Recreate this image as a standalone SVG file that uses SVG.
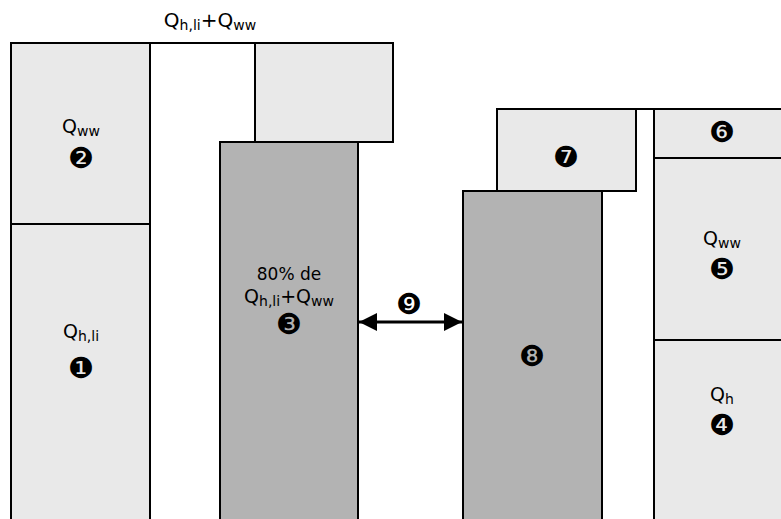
<svg xmlns="http://www.w3.org/2000/svg" width="781" height="519" viewBox="0 0 781 519">
<defs>
<style>
.lt{fill:#e9e9e9;stroke:#000;stroke-width:2}
.dk{fill:#b3b3b3;stroke:#000;stroke-width:2}
text{font-family:"DejaVu Sans","Liberation Sans",sans-serif;fill:#000;text-anchor:middle}
.lb{font-size:19px}
.sub{font-size:14px}
.num{font-size:29px}
</style>
<marker id="ah" viewBox="0 0 10 10" refX="10" refY="5" markerWidth="6" markerHeight="6" orient="auto-start-reverse" markerUnits="strokeWidth">
<path d="M0,0 L10,5 L0,10 z" fill="#000"/>
</marker>
</defs>
<rect width="781" height="519" fill="#fff"/>
<g id="header">
<text x="210" y="27" style="font-size:20px">Q<tspan style="font-size:14px" dy="3">h,li</tspan><tspan dy="-3">+Q</tspan><tspan style="font-size:14px" dy="3">ww</tspan></text>
<line x1="10" y1="43" x2="394" y2="43" stroke="#000" stroke-width="2"/>
<line x1="497" y1="109" x2="781" y2="109" stroke="#000" stroke-width="2"/>
</g>
<g id="n1">
<rect class="lt" x="11" y="224" width="139" height="310"/>
<text class="lb" x="81" y="338">Q<tspan class="sub" dy="3">h,li</tspan></text>
<text class="num" x="81" y="378">❶</text>
</g>
<g id="n2">
<rect class="lt" x="11" y="43" width="139" height="181"/>
<text class="lb" x="81" y="133">Q<tspan class="sub" dy="3">ww</tspan></text>
<text class="num" x="81" y="168">❷</text>
</g>
<g id="n-top">
<rect class="lt" x="255" y="43" width="138" height="99"/>
</g>
<g id="n3">
<rect class="dk" x="220" y="142" width="138" height="392"/>
<text x="289" y="280" style="font-size:17px">80% de</text>
<text class="lb" x="289" y="303">Q<tspan class="sub" dy="3">h,li</tspan><tspan dy="-3">+Q</tspan><tspan class="sub" dy="3">ww</tspan></text>
<text class="num" x="289" y="334">❸</text>
</g>
<g id="n7">
<rect class="lt" x="497" y="109" width="139" height="82"/>
<text class="num" x="566" y="167">❼</text>
</g>
<g id="n8">
<rect class="dk" x="463" y="191" width="139" height="343"/>
<text class="num" x="532" y="366">❽</text>
</g>
<g id="n6">
<rect class="lt" x="654" y="109" width="140" height="49"/>
<text class="num" x="722" y="142">❻</text>
</g>
<g id="n5">
<rect class="lt" x="654" y="158" width="140" height="182"/>
<text class="lb" x="722" y="245">Q<tspan class="sub" dy="3">ww</tspan></text>
<text class="num" x="722" y="279">❺</text>
</g>
<g id="n4">
<rect class="lt" x="654" y="340" width="140" height="194"/>
<text class="lb" x="722" y="401">Q<tspan class="sub" dy="3">h</tspan></text>
<text class="num" x="722" y="435">❹</text>
</g>
<g id="connectors">
<line x1="359" y1="322" x2="462" y2="322" stroke="#000" stroke-width="3" marker-start="url(#ah)" marker-end="url(#ah)"/>
<text class="num" x="409" y="314">❾</text>
</g>
</svg>
